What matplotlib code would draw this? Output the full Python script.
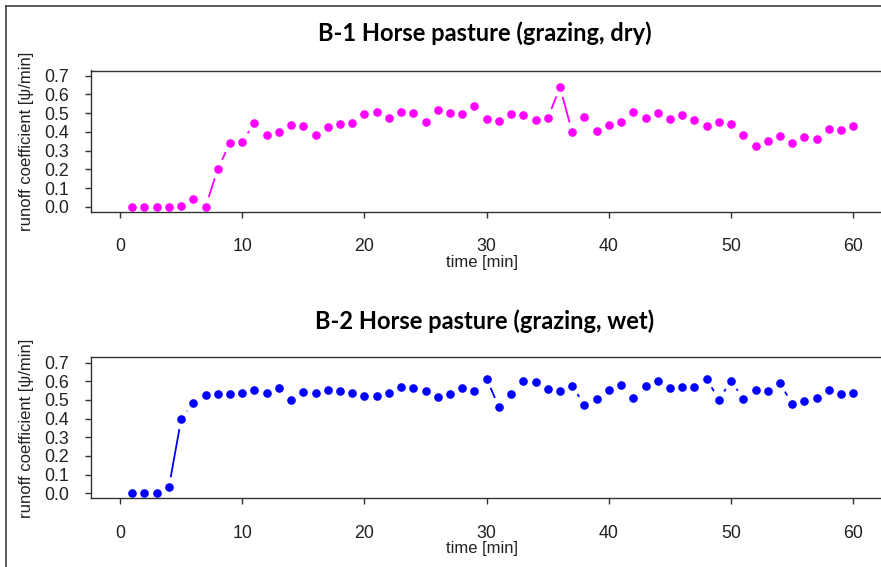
"""
Runoff coefficient over time for two horse pasture plots (B-1 dry, B-2 wet).
R-style "type b" plot: points with line segments that stop short of each point.
"""

import numpy as np

import matplotlib
matplotlib.use("Agg")
import matplotlib.pyplot as plt
from matplotlib.collections import LineCollection
from matplotlib.lines import Line2D


# data
time_min = list(range(1, 61))

b1_dry = [
    0.0, 0.0, 0.0, 0.0, 0.005, 0.04, 0.0, 0.203, 0.34, 0.347,
    0.449, 0.381, 0.397, 0.438, 0.433, 0.381, 0.428, 0.444, 0.445, 0.495,
    0.506, 0.472, 0.506, 0.499, 0.454, 0.519, 0.501, 0.497, 0.538, 0.467,
    0.456, 0.497, 0.492, 0.463, 0.472, 0.639, 0.399, 0.479, 0.404, 0.438,
    0.451, 0.506, 0.472, 0.500, 0.467, 0.492, 0.461, 0.433, 0.451, 0.440,
    0.381, 0.324, 0.353, 0.376, 0.342, 0.371, 0.360, 0.415, 0.410, 0.433,
]

b2_wet = [
    0.0, 0.0, 0.0, 0.032, 0.396, 0.484, 0.529, 0.534, 0.534, 0.539,
    0.552, 0.539, 0.563, 0.500, 0.545, 0.536, 0.552, 0.546, 0.539, 0.523,
    0.523, 0.539, 0.568, 0.563, 0.546, 0.517, 0.534, 0.563, 0.546, 0.614,
    0.461, 0.534, 0.604, 0.598, 0.557, 0.546, 0.577, 0.471, 0.505, 0.552,
    0.582, 0.511, 0.575, 0.604, 0.563, 0.568, 0.568, 0.614, 0.500, 0.604,
    0.505, 0.552, 0.546, 0.591, 0.477, 0.493, 0.511, 0.552, 0.534, 0.539,
]

titles = ["B-1 Horse pasture (grazing, dry)", "B-2 Horse pasture (grazing, wet)"]
series = [b1_dry, b2_wet]
colors = ["#ff00ff", "#0000ff"]

x_ticks = [0, 10, 20, 30, 40, 50, 60]
y_ticks = [0.0, 0.1, 0.2, 0.3, 0.4, 0.5, 0.6, 0.7]

W, H, DPI = 881, 567, 100


def px_x(p):
    return p / W


def px_y(p):
    # pixel measured from the top -> figure fraction from the bottom
    return 1.0 - p / H


def gapped_segments(ax, x, y, gap_px):
    """Segments between consecutive points, shortened by gap_px at both ends."""
    pts = ax.transData.transform(np.column_stack([x, y]))
    inv = ax.transData.inverted()
    segs = []
    for a, b in zip(pts[:-1], pts[1:]):
        d = b - a
        length = np.hypot(*d)
        if length <= 2 * gap_px:
            continue
        u = d / length
        p0 = a + u * gap_px
        p1 = b - u * gap_px
        segs.append(inv.transform(np.array([p0, p1])))
    return segs


def main():
    plt.rcParams["font.family"] = ["Liberation Sans", "DejaVu Sans"]

    fig = plt.figure(figsize=(W / DPI, H / DPI), dpi=DPI)

    # axes boxes in pixels: (left, right, top, bottom)
    boxes = [(90.7, 882.6, 70.5, 212.0), (90.7, 882.6, 357.4, 498.4)]
    title_y = [33, 321]
    xlabel_y = [263, 549]

    for i in range(2):
        left, right, top, bottom = boxes[i]
        ax = fig.add_axes([
            px_x(left), px_y(bottom),
            (right - left) / W, (bottom - top) / H,
        ])
        ax.set_xlim(-2.4, 62.4)
        ax.set_ylim(-0.028, 0.728)

        segs = gapped_segments(ax, time_min, series[i], gap_px=10.0)
        ax.add_collection(LineCollection(segs, colors=colors[i], linewidths=1.3))
        ax.plot(time_min, series[i], linestyle="none", marker="o",
                markersize=6.2, markeredgewidth=0, color=colors[i])

        ax.set_xticks(x_ticks)
        ax.set_yticks(y_ticks)
        ax.set_yticklabels([f"{v:.1f}" for v in y_ticks])
        ax.tick_params(axis="both", direction="out", length=4, width=1,
                       color="#333333", labelsize=12.8, labelcolor="#222222")
        ax.tick_params(axis="x", pad=15)
        ax.tick_params(axis="y", pad=11.5)
        for spine in ax.spines.values():
            spine.set_color("#333333")
            spine.set_linewidth(1.0)

        fig.text(px_x(485), px_y(title_y[i]), titles[i], ha="center",
                 va="center", fontsize=17, fontweight="bold",
                 family=["Lato", "DejaVu Sans"], color="black")
        fig.text(px_x(27), px_y((top + bottom) / 2),
                 "runoff coefficient [\u03c8/min]", rotation=90,
                 ha="center", va="center", fontsize=12, color="#222222")
        fig.text(px_x(482), px_y(xlabel_y[i]), "time [min]", ha="center",
                 va="center", fontsize=12, color="#222222")

    # outer frame of the pasted figure (left and top edges)
    fig.add_artist(Line2D([px_x(6), px_x(6)], [0, px_y(6)],
                          color="#404040", linewidth=1.2))
    fig.add_artist(Line2D([px_x(6), 1], [px_y(6), px_y(6)],
                          color="#404040", linewidth=1.2))

    fig.savefig("out.png", dpi=DPI)
    plt.close(fig)


if __name__ == "__main__":
    main()
